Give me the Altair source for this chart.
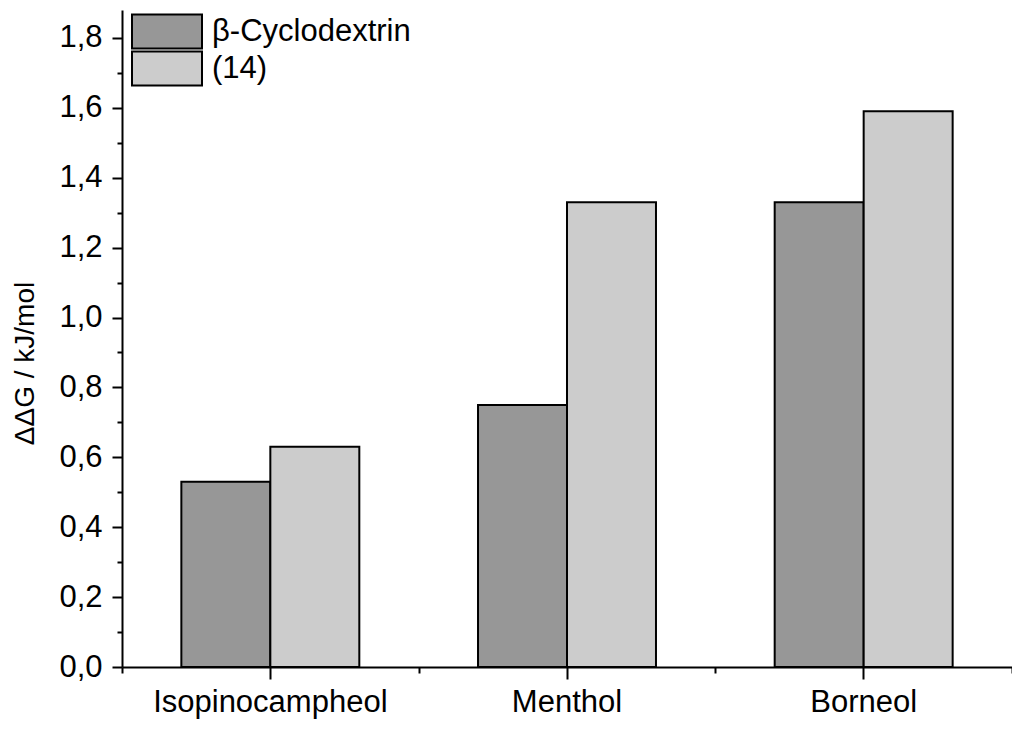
import altair as alt
import pandas as pd

categories = ["Isopinocampheol", "Menthol", "Borneol"]
series = ["β-Cyclodextrin", "(14)"]
beta_values = [0.53, 0.75, 1.33]
p14_values = [0.63, 1.33, 1.59]
colors = ["#979797", "#cccccc"]
major_ticks = [0.0, 0.2, 0.4, 0.6, 0.8, 1.0, 1.2, 1.4, 1.6, 1.8]
minor_ticks = [0.1, 0.3, 0.5, 0.7, 0.9, 1.1, 1.3, 1.5, 1.7]

rows = []
for c, b, p in zip(categories, beta_values, p14_values):
    rows.append({"compound": c, "series": series[0], "value": b})
    rows.append({"compound": c, "series": series[1], "value": p})
df = pd.DataFrame(rows)

FONT = "Liberation Sans"

yscale = alt.Scale(domain=[0, 1.88], nice=False, zero=True)
xscale = alt.Scale(domain=categories, paddingInner=0, paddingOuter=0)

bars = alt.Chart(df).mark_bar(stroke="black", strokeWidth=2, opacity=1).encode(
    x=alt.X(
        "compound:N", scale=xscale, sort=categories,
        axis=alt.Axis(orient="bottom", title=None, labelAngle=0, tickBand="center",
                      tickSize=12, tickWidth=2, tickColor="black",
                      domainColor="black", domainWidth=2,
                      labelFontSize=31, labelFont=FONT, labelColor="black", labelPadding=8,
                      labelLimit=500),
    ),
    xOffset=alt.XOffset("series:N", sort=series,
                        scale=alt.Scale(domain=series, paddingInner=0, paddingOuter=0.667)),
    y=alt.Y(
        "value:Q", scale=yscale,
        axis=alt.Axis(orient="left", values=major_ticks,
                      labelExpr="replace(format(datum.value, '.1f'), '.', ',')",
                      tickSize=10, tickWidth=2, tickColor="black",
                      domainColor="black", domainWidth=2,
                      labelFontSize=31, labelFont=FONT, labelColor="black", labelPadding=10,
                      title="ΔΔG / kJ/mol", titleFont=FONT, titleFontSize=28,
                      titleFontWeight="normal", titleColor="black",
                      titleAngle=270, titleAlign="center", titleBaseline="alphabetic",
                      titleX=-89, titleY=353),
    ),
    color=alt.Color(
        "series:N", sort=series, scale=alt.Scale(domain=series, range=colors),
        legend=alt.Legend(title=None, orient="none", legendX=12, legendY=6,
                          symbolType="M-2,-1.94H6V1.94H-2Z", symbolSize=306.25,
                          symbolStrokeColor="black", symbolStrokeWidth=2, symbolOpacity=1,
                          labelFontSize=31, labelFont=FONT, labelColor="black",
                          labelOffset=47, labelLimit=500, rowPadding=-10, padding=0),
    ),
)

minor = alt.Chart(df).mark_bar(opacity=0).encode(
    x=alt.X(
        "compound:N", scale=xscale, sort=categories,
        axis=alt.Axis(orient="bottom", title=None, labels=False, domain=False,
                      tickBand="extent", tickSize=6, tickWidth=2, tickColor="black"),
    ),
    y=alt.Y(
        "value:Q", scale=yscale,
        axis=alt.Axis(orient="left", values=minor_ticks, labels=False, domain=False,
                      title=None, tickSize=5, tickWidth=2, tickColor="black"),
    ),
)

chart = alt.layer(bars, minor).resolve_axis(x="independent", y="independent").properties(
    width=890, height=657,
    autosize=alt.AutoSizeParams(type="none"),
    padding={"left": 114, "top": 2, "right": 0, "bottom": 55},
).configure_axis(grid=False).configure_view(strokeWidth=0)

chart.save("out.html", embed_options={"renderer": "svg", "actions": False})
